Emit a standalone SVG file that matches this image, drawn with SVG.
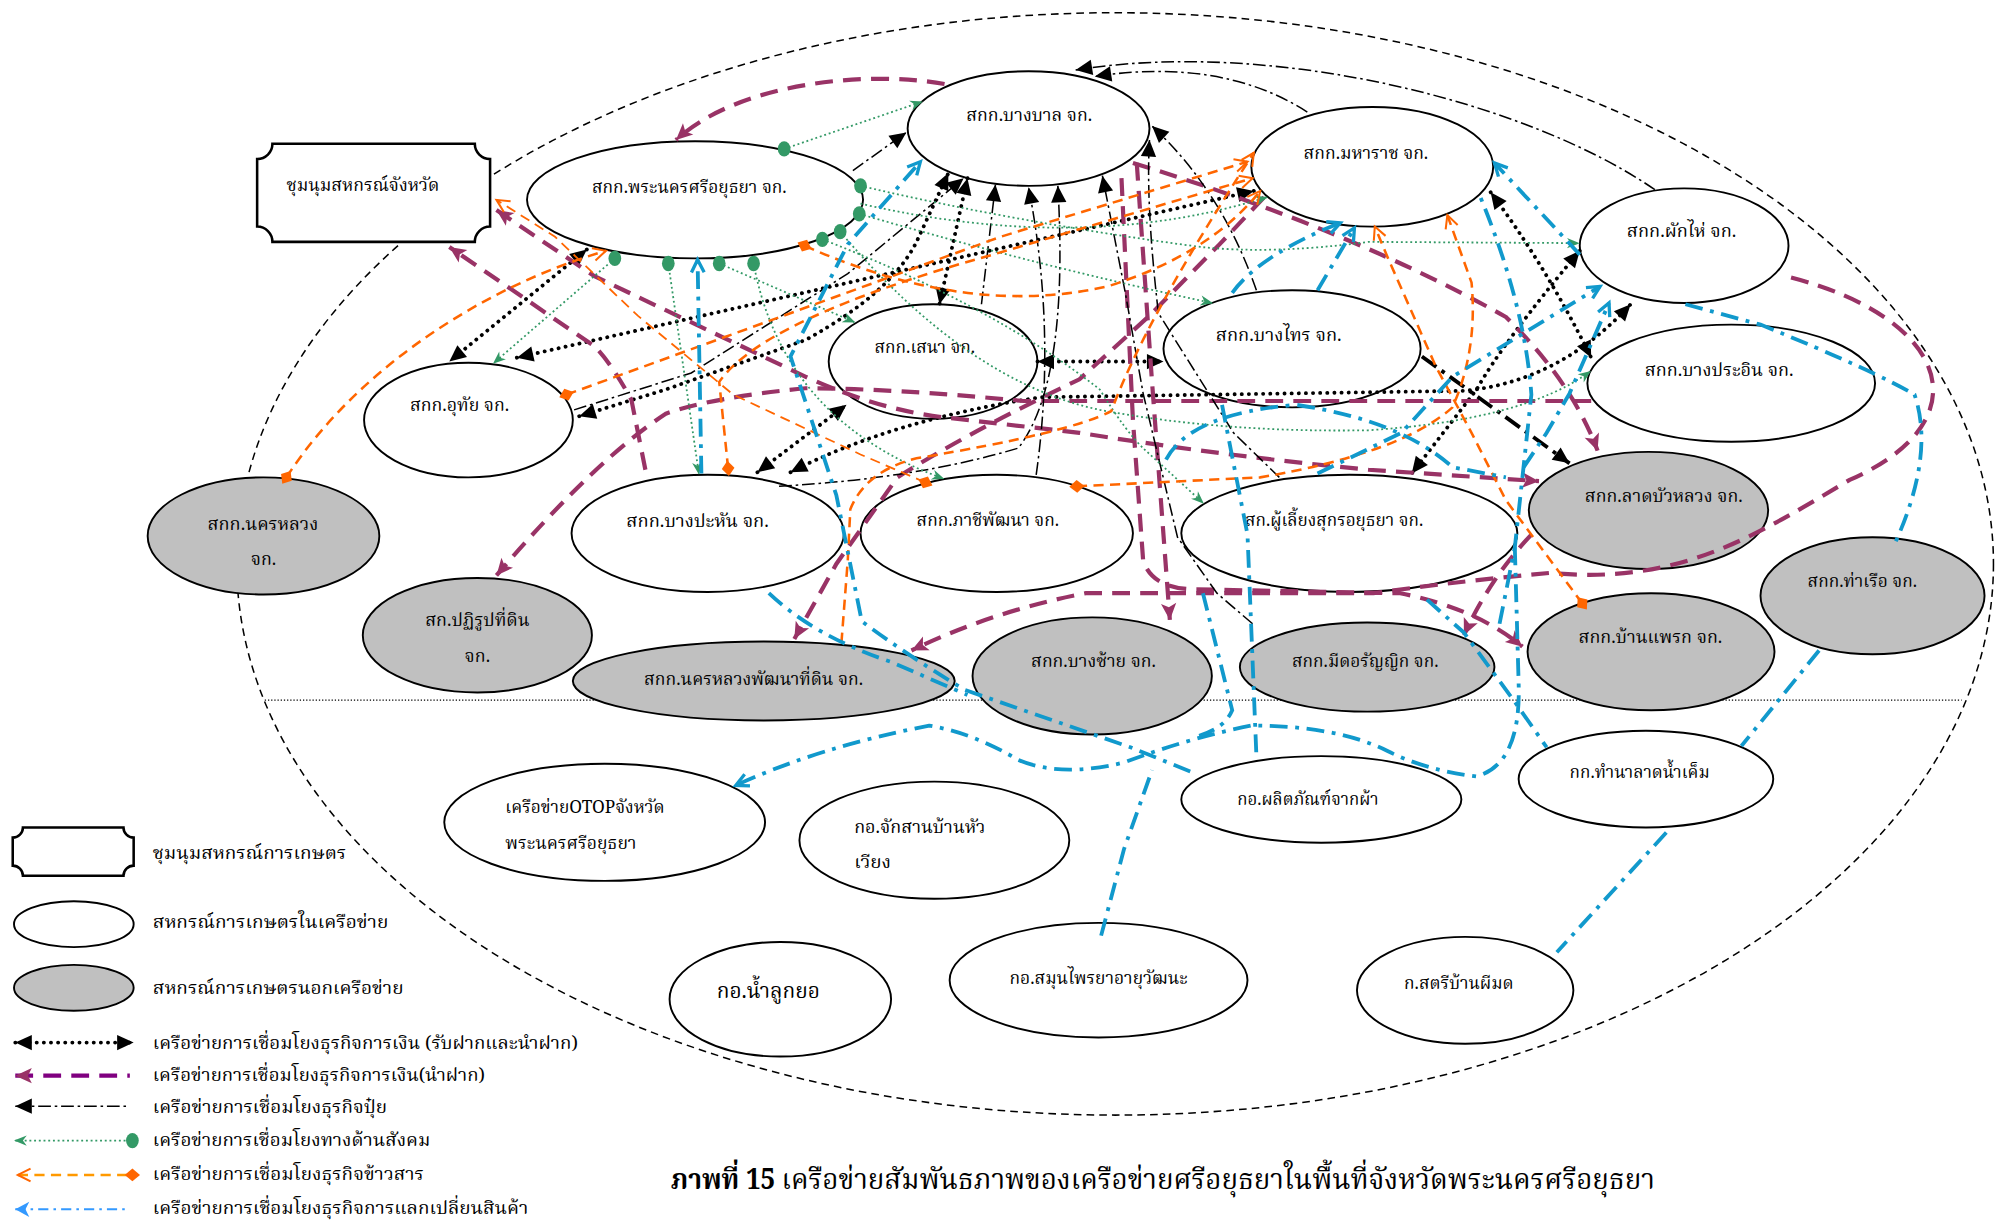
<svg xmlns="http://www.w3.org/2000/svg" width="1996" height="1224" viewBox="0 0 1996 1224">
<style>
.nd{fill:#fff;stroke:#000;stroke-width:1.5}
.gr{fill:#c0c0c0;stroke:#000;stroke-width:1.5}
.t{font-family:'Noto Serif Thai','Noto Sans Thai','Liberation Serif',serif;font-size:14px;fill:#000}
.c{text-anchor:middle}
.fin{fill:none;stroke:#000;stroke-width:3;stroke-dasharray:0.1 5.5;stroke-linecap:round}
.loan{fill:none;stroke:#993366;stroke-width:3.3;stroke-dasharray:14 8}
.fert{fill:none;stroke:#000;stroke-width:1.2;stroke-dasharray:10 3 2 3}
.soc{fill:none;stroke:#339966;stroke-width:1.4;stroke-dasharray:1.5 2.2}
.rice{fill:none;stroke:#ff6600;stroke-width:2;stroke-dasharray:8 5}
.exch{fill:none;stroke:#1199cc;stroke-width:3;stroke-dasharray:14 6 3 6}
</style>
<defs>
<marker id="aB" markerUnits="userSpaceOnUse" markerWidth="14" markerHeight="12" refX="13" refY="6" orient="auto-start-reverse" overflow="visible"><path d="M0,0 L13,6 L0,12 Z" fill="#000"/></marker>
<marker id="aP" markerUnits="userSpaceOnUse" markerWidth="14" markerHeight="12" refX="13" refY="6" orient="auto-start-reverse" overflow="visible"><path d="M0,0 L13,6 L0,12 L3,6 Z" fill="#993366"/></marker>
<marker id="aG" markerUnits="userSpaceOnUse" markerWidth="10" markerHeight="8" refX="9" refY="4" orient="auto-start-reverse" overflow="visible"><path d="M0,0 L10,4 L0,8 L3,4 Z" fill="#339966"/></marker>
<marker id="dG" markerUnits="userSpaceOnUse" markerWidth="12" markerHeight="12" refX="6" refY="6" overflow="visible"><ellipse cx="6" cy="6" rx="5" ry="6" fill="#339966"/></marker>
<marker id="aO" markerUnits="userSpaceOnUse" markerWidth="12" markerHeight="12" refX="11" refY="6" orient="auto-start-reverse" overflow="visible"><path d="M1,1 L11,6 L1,11" fill="none" stroke="#ff6600" stroke-width="1.6"/></marker>
<marker id="dO" markerUnits="userSpaceOnUse" markerWidth="12" markerHeight="12" refX="6" refY="6" orient="auto" overflow="visible"><path d="M0,6 L6,1 L12,6 L6,11 Z" fill="#ff6600"/></marker>
<marker id="aX" markerUnits="userSpaceOnUse" markerWidth="13" markerHeight="13" refX="11" refY="6" orient="auto-start-reverse" overflow="visible"><path d="M1,1 L11,6 L1,11" fill="none" stroke="#1199cc" stroke-width="2.6"/></marker>
<marker id="aL" markerUnits="userSpaceOnUse" markerWidth="13" markerHeight="13" refX="11" refY="6" orient="auto-start-reverse" overflow="visible"><path d="M0,0 L11,6 L0,12 L3,6 Z" fill="#3399ff"/></marker>
</defs>
<rect width="1996" height="1224" fill="#fff"/>
<g transform="scale(1.27296)">
<g id="frame">
<ellipse cx="876" cy="443" rx="690" ry="433" fill="none" stroke="#000" stroke-width="1.2" stroke-dasharray="6 4"/>
<line x1="208" y1="550" x2="1541" y2="550" stroke="#000" stroke-width="1" stroke-dasharray="1 1.5"/>
</g>
<g id="n-chumnum">
<path class="nd" style="stroke-width:2" d="M214,113 L373,113 A12,12 0 0 0 385,125 L385,178 A12,12 0 0 0 373,190 L214,190 A12,12 0 0 0 202,178 L202,125 A12,12 0 0 0 214,113 Z"/>
<text class="t" x="225" y="150" textLength="120" lengthAdjust="spacingAndGlyphs">ชุมนุมสหกรณ์จังหวัด</text>
</g>
<g id="n1"><ellipse class="nd" cx="546" cy="157" rx="132" ry="46"/><text class="t" x="465" y="152" textLength="153" lengthAdjust="spacingAndGlyphs">สกก.พระนครศรีอยุธยา จก.</text></g>
<g id="n2"><ellipse class="nd" cx="808" cy="101" rx="95" ry="45"/><text class="t" x="759" y="95" textLength="99" lengthAdjust="spacingAndGlyphs">สกก.บางบาล จก.</text></g>
<g id="n3"><ellipse class="nd" cx="1078" cy="131" rx="95" ry="47"/><text class="t" x="1024" y="125" textLength="98" lengthAdjust="spacingAndGlyphs">สกก.มหาราช จก.</text></g>
<g id="n4"><ellipse class="nd" cx="1323" cy="193" rx="82" ry="45"/><text class="t" x="1278" y="186" textLength="86" lengthAdjust="spacingAndGlyphs">สกก.ผักไห่ จก.</text></g>
<g id="n5"><ellipse class="nd" cx="733" cy="284" rx="82" ry="45"/><text class="t" x="687" y="277" textLength="79" lengthAdjust="spacingAndGlyphs">สกก.เสนา จก.</text></g>
<g id="n6"><ellipse class="nd" cx="1015" cy="274" rx="101" ry="46"/><text class="t" x="955" y="268" textLength="99" lengthAdjust="spacingAndGlyphs">สกก.บางไทร จก.</text></g>
<g id="n7"><ellipse class="nd" cx="1360" cy="301" rx="113" ry="46"/><text class="t" x="1292" y="295" textLength="117" lengthAdjust="spacingAndGlyphs">สกก.บางประอิน จก.</text></g>
<g id="n8"><ellipse class="nd" cx="368" cy="330" rx="82" ry="45"/><text class="t" x="322" y="323" textLength="78" lengthAdjust="spacingAndGlyphs">สกก.อุทัย จก.</text></g>
<g id="n9"><ellipse class="gr" cx="207" cy="421" rx="91" ry="46"/><text class="t" x="163" y="416" textLength="87" lengthAdjust="spacingAndGlyphs">สกก.นครหลวง</text><text class="t c" x="207" y="444">จก.</text></g>
<g id="n10"><ellipse class="nd" cx="556" cy="419" rx="107" ry="46"/><text class="t" x="492" y="414" textLength="112" lengthAdjust="spacingAndGlyphs">สกก.บางปะหัน จก.</text></g>
<g id="n11"><ellipse class="nd" cx="783" cy="419" rx="107" ry="46"/><text class="t" x="720" y="413" textLength="112" lengthAdjust="spacingAndGlyphs">สกก.ภาชีพัฒนา จก.</text></g>
<g id="n12"><ellipse class="nd" cx="1060" cy="419" rx="132" ry="46"/><text class="t" x="978" y="413" textLength="140" lengthAdjust="spacingAndGlyphs">สก.ผู้เลี้ยงสุกรอยุธยา จก.</text></g>
<g id="n13"><ellipse class="gr" cx="1295" cy="401" rx="94" ry="46"/><text class="t" x="1245" y="394" textLength="124" lengthAdjust="spacingAndGlyphs">สกก.ลาดบัวหลวง จก.</text></g>
<g id="n14"><ellipse class="gr" cx="1471" cy="468" rx="88" ry="46"/><text class="t" x="1420" y="461" textLength="86" lengthAdjust="spacingAndGlyphs">สกก.ท่าเรือ จก.</text></g>
<g id="n15"><ellipse class="gr" cx="375" cy="499" rx="90" ry="45"/><text class="t" x="334" y="492" textLength="82" lengthAdjust="spacingAndGlyphs">สก.ปฏิรูปที่ดิน</text><text class="t c" x="375" y="520">จก.</text></g>
<g id="n16"><ellipse class="gr" cx="600" cy="535" rx="150" ry="31"/><text class="t" x="506" y="538" textLength="172" lengthAdjust="spacingAndGlyphs">สกก.นครหลวงพัฒนาที่ดิน จก.</text></g>
<g id="n17"><ellipse class="gr" cx="858" cy="531" rx="94" ry="46"/><text class="t" x="810" y="524" textLength="98" lengthAdjust="spacingAndGlyphs">สกก.บางซ้าย จก.</text></g>
<g id="n18"><ellipse class="gr" cx="1074" cy="524" rx="100" ry="35"/><text class="t" x="1015" y="524" textLength="115" lengthAdjust="spacingAndGlyphs">สกก.มีดอรัญญิก จก.</text></g>
<g id="n19"><ellipse class="gr" cx="1297" cy="512" rx="97" ry="46"/><text class="t" x="1240" y="505" textLength="113" lengthAdjust="spacingAndGlyphs">สกก.บ้านแพรก จก.</text></g>
<g id="n20"><ellipse class="nd" cx="475" cy="646" rx="126" ry="46"/><text class="t" x="397" y="639" textLength="125" lengthAdjust="spacingAndGlyphs">เครือข่ายOTOPจังหวัด</text><text class="t" x="397" y="667" textLength="103" lengthAdjust="spacingAndGlyphs">พระนครศรีอยุธยา</text></g>
<g id="n21"><ellipse class="nd" cx="734" cy="660" rx="106" ry="46"/><text class="t" x="671" y="654" textLength="103" lengthAdjust="spacingAndGlyphs">กอ.จักสานบ้านหัว</text><text class="t" x="671" y="682" textLength="29" lengthAdjust="spacingAndGlyphs">เวียง</text></g>
<g id="n22"><ellipse class="nd" cx="1038" cy="628" rx="110" ry="34"/><text class="t" x="972" y="632" textLength="111" lengthAdjust="spacingAndGlyphs">กอ.ผลิตภัณฑ์จากผ้า</text></g>
<g id="n23"><ellipse class="nd" cx="1293" cy="612" rx="100" ry="38"/><text class="t" x="1233" y="611" textLength="110" lengthAdjust="spacingAndGlyphs">กก.ทำนาลาดน้ำเค็ม</text></g>
<g id="n24"><ellipse class="nd" cx="613" cy="785" rx="87" ry="45"/><text class="t" x="563" y="784" style="font-size:17px" textLength="81" lengthAdjust="spacingAndGlyphs">กอ.น้ำลูกยอ</text></g>
<g id="n25"><ellipse class="nd" cx="863" cy="770" rx="117" ry="45"/><text class="t" x="793" y="773" textLength="140" lengthAdjust="spacingAndGlyphs">กอ.สมุนไพรยาอายุวัฒนะ</text></g>
<g id="n26"><ellipse class="nd" cx="1151" cy="778" rx="85" ry="42"/><text class="t" x="1103" y="777" textLength="86" lengthAdjust="spacingAndGlyphs">ก.สตรีบ้านผีมด</text></g>

<g id="connectors">
<!-- finance dotted -->
<path class="fin" marker-start="url(#aB)" marker-end="url(#aB)" d="M461,196 L353,284"/>
<path class="fin" marker-start="url(#aB)" marker-end="url(#aB)" d="M406,281 L985,150"/>
<path class="fin" marker-start="url(#aB)" marker-end="url(#aB)" d="M455,327 L523,306 L633,267 Q700,230 720,190 L745,136"/>
<path class="fin" marker-start="url(#aB)" marker-end="url(#aB)" d="M760,140 L738,239"/>
<path class="fin" marker-start="url(#aB)" marker-end="url(#aB)" d="M595,371 L665,318"/>
<path class="fin" marker-start="url(#aB)" marker-end="url(#aB)" d="M815,284 L914,284"/>
<path class="fin" marker-start="url(#aB)" marker-end="url(#aB)" d="M621,371 Q700,330 818,312 L1150,307 Q1225,300 1281,239"/>
<path class="fin" marker-start="url(#aB)" marker-end="url(#aB)" d="M1241,197 Q1180,270 1160,306 L1109,372"/>
<path class="fin" marker-start="url(#aB)" marker-end="url(#aB)" d="M1171,151 Q1215,210 1250,281"/>
<!-- loan purple dashed -->
<path class="loan" marker-end="url(#aP)" d="M742,66 C680,55 580,65 531,110"/>
<path class="loan" marker-end="url(#aP)" d="M890,128 Q1060,180 1183,249 Q1235,300 1255,354"/>
<path class="loan" marker-start="url(#aP)" marker-end="url(#aP)" d="M390,165 L467,217 L551,257 L633,296 Q690,322 743,328 L848,340 Q960,358 1075,369 L1209,378"/>
<path class="loan" marker-end="url(#aP)" d="M993,155 L958,192 L903,248 L848,298 Q760,340 705,375 L657,443 L624,502"/>
<path class="loan" marker-end="url(#aP)" d="M1250,315 L804,315 Q700,305 633,305 Q560,312 523,325 Q468,361 390,452"/>
<path class="loan" marker-end="url(#aP)" d="M507,369 L496,314 Q480,285 467,272 L353,194"/>
<path class="loan" marker-end="url(#aP)" d="M893,128 L905,300 L919,487"/>
<path class="loan" marker-end="url(#aP)" d="M881,140 L890,330 L898,440 Q905,463 940,463 L1100,466 Q1160,478 1196,508"/>
<path class="loan" marker-end="url(#aP)" d="M1203,420 Q1170,455 1150,499"/>
<path class="loan" marker-end="url(#aP)" d="M1407,218 C1530,250 1560,330 1453,377 C1380,420 1320,460 1218,450 Q1150,456 1079,466 L853,466 Q780,480 716,511"/>
<!-- fertilizer dash-dot -->
<path class="fert" marker-end="url(#aB)" d="M670,134 L712,104"/>
<path class="fert" marker-end="url(#aB)" d="M1300,149 C1200,80 1000,30 845,55"/>
<path class="fert" marker-end="url(#aB)" d="M1027,88 Q960,45 860,60"/>
<path class="fert" marker-end="url(#aB)" d="M987,228 Q960,150 905,99"/>
<path class="fert" marker-end="url(#aB)" d="M1005,375 L969,340 L910,246 Q900,160 903,110"/>
<path class="fert" marker-end="url(#aB)" d="M984,490 L956,466 L925,422 L898,309 L884,230 L866,138"/>
<path class="fert" marker-end="url(#aB)" d="M814,373 Q830,260 808,147"/>
<path class="fert" marker-end="url(#aB)" d="M771,239 L782,145"/>
<path class="fert" marker-end="url(#aB)" d="M451,322 L543,293 L666,215 L757,140"/>
<path class="fert" marker-end="url(#aB)" d="M612,382 Q720,376 800,352 Q840,300 831,146"/>
<path class="fert" style="stroke-width:3;stroke-dasharray:14 5 3 5" marker-end="url(#aB)" d="M1117,280 L1233,364"/>
<!-- social green -->
<path class="soc" marker-start="url(#dG)" marker-end="url(#aG)" d="M616,117 L724,80"/>
<path class="soc" marker-start="url(#dG)" marker-end="url(#aG)" d="M676,146 Q800,175 943,194 Q1000,200 1075,190 L1240,191"/>
<path class="soc" marker-start="url(#dG)" marker-end="url(#aG)" d="M675,168 Q820,210 952,238"/>
<path class="soc" marker-start="url(#dG)" marker-end="url(#aG)" d="M646,188 Q780,240 864,306 Q885,340 899,353 L945,395"/>
<path class="soc" marker-start="url(#dG)" marker-end="url(#aG)" d="M483,203 L388,285"/>
<path class="soc" marker-start="url(#dG)" marker-end="url(#aG)" d="M525,207 L549,372"/>
<path class="soc" marker-start="url(#dG)" marker-end="url(#aG)" d="M565,207 L671,253"/>
<path class="soc" marker-start="url(#dG)" marker-end="url(#aG)" d="M592,207 Q615,330 741,376"/>
<path class="soc" marker-start="url(#dG)" marker-end="url(#aG)" d="M660,182 Q760,300 864,322 Q960,340 1075,338 Q1197,330 1249,292"/>
<path class="soc" marker-end="url(#aG)" d="M676,160 Q850,200 995,155"/>
<!-- rice orange -->
<path class="rice" marker-start="url(#dO)" marker-end="url(#aO)" d="M225,375 C280,290 380,225 476,197"/>
<path class="rice" marker-start="url(#dO)" marker-end="url(#aO)" d="M445,310 L786,186 L980,127"/>
<path class="rice" marker-start="url(#dO)" marker-end="url(#aO)" d="M632,193 Q760,250 870,225 Q950,200 990,150"/>
<path class="rice" marker-start="url(#dO)" marker-end="url(#aO)" d="M572,368 L565,300 Q600,250 780,200 L984,140"/>
<path class="rice" style="stroke-width:1.4" marker-start="url(#dO)" marker-end="url(#aO)" d="M727,379 L676,357 L576,310 L501,248 L436,186 L390,157"/>
<path class="rice" marker-start="url(#dO)" marker-end="url(#aO)" d="M846,382 L990,375 Q1101,356 1141,320 Q1161,275 1156,222 L1137,169"/>
<path class="rice" marker-start="url(#dO)" marker-end="url(#aO)" d="M1243,474 L1183,393 L1156,340 L1128,288 L1090,202 L1080,178"/>
<path class="rice" marker-end="url(#aO)" d="M661,505 L666,440 L668,400 Q680,370 720,360 Q840,340 873,323 Q900,250 985,120"/>
<!-- exchange blue -->
<path class="exch" marker-end="url(#aX)" d="M551,372 L548,204"/>
<path class="exch" marker-end="url(#aX)" d="M935,606 L888,587 L758,542 Q713,515 677,488 L657,389 L621,280 L666,192 L723,127"/>
<path class="exch" d="M604,466 Q640,500 700,520 L760,546"/>
<path class="exch" marker-end="url(#aX)" d="M1190,430 L1193,537 Q1195,600 1160,610 Q1120,605 1090,590 Q1050,570 983,570 Q933,580 883,599 Q833,611 800,597 Q765,576 730,570 Q643,587 578,617"/>
<path class="exch" d="M1178,490 L1190,430 L1203,310 Q1198,240 1163,155"/>
<path class="exch" marker-end="url(#aX)" d="M1241,200 L1174,128"/>
<path class="exch" marker-end="url(#aX)" d="M1035,372 L1101,340 L1141,296 L1257,225"/>
<path class="exch" marker-end="url(#aX)" d="M1197,367 L1215,340 L1233,309 L1264,238"/>
<path class="exch" d="M1324,239 L1383,255 Q1474,292 1504,310 Q1520,357 1489,426"/>
<path class="exch" d="M1429,511 L1368,586"/>
<path class="exch" d="M1309,654 L1223,748"/>
<path class="exch" marker-end="url(#aX)" d="M968,230 Q990,200 1053,175"/>
<path class="exch" marker-end="url(#aX)" d="M1035,228 L1064,179"/>
<path class="exch" d="M960,318 L980,420 L987,594"/>
<path class="exch" d="M945,466 L968,558 Q962,572 942,578"/>
<path class="exch" d="M916,361 Q935,325 1018,318 Q1100,330 1141,367 L1183,375"/>
<path class="exch" d="M1121,471 L1150,497 L1189,550 L1215,587"/>
<path class="exch" d="M865,735 L883,667 L905,605"/>
</g>

<g id="legend">
<path class="nd" style="stroke-width:2" d="M18,650 L97,650 A8,8 0 0 0 105,658 L105,680 A8,8 0 0 0 97,688 L18,688 A8,8 0 0 0 10,680 L10,658 A8,8 0 0 0 18,650 Z"/>
<text class="t" x="120" y="675" textLength="152" lengthAdjust="spacingAndGlyphs">ชุมนุมสหกรณ์การเกษตร</text>
<ellipse class="nd" cx="58" cy="726" rx="47" ry="18"/>
<text class="t" x="120" y="729" textLength="185" lengthAdjust="spacingAndGlyphs">สหกรณ์การเกษตรในเครือข่าย</text>
<ellipse class="gr" cx="58" cy="776" rx="47" ry="18"/>
<text class="t" x="120" y="781" textLength="197" lengthAdjust="spacingAndGlyphs">สหกรณ์การเกษตรนอกเครือข่าย</text>
<path class="fin" marker-start="url(#aB)" marker-end="url(#aB)" d="M12,819 L105,819"/>
<text class="t" x="120" y="824" textLength="334" lengthAdjust="spacingAndGlyphs">เครือข่ายการเชื่อมโยงธุรกิจการเงิน (รับฝากและนำฝาก)</text>
<path class="loan" style="stroke:#800080" marker-start="url(#aP)" d="M12,845 L102,845"/>
<text class="t" x="120" y="849" textLength="261" lengthAdjust="spacingAndGlyphs">เครือข่ายการเชื่อมโยงธุรกิจการเงิน(นำฝาก)</text>
<path class="fert" marker-start="url(#aB)" d="M12,869 L102,869"/>
<text class="t" x="120" y="874" textLength="184" lengthAdjust="spacingAndGlyphs">เครือข่ายการเชื่อมโยงธุรกิจปุ๋ย</text>
<path class="soc" marker-start="url(#aG)" marker-end="url(#dG)" d="M12,896 L104,896"/>
<text class="t" x="120" y="900" textLength="218" lengthAdjust="spacingAndGlyphs">เครือข่ายการเชื่อมโยงทางด้านสังคม</text>
<path class="rice" style="stroke:#ff9900" marker-start="url(#aO)" marker-end="url(#dO)" d="M14,923 L104,923"/>
<text class="t" x="120" y="927" textLength="213" lengthAdjust="spacingAndGlyphs">เครือข่ายการเชื่อมโยงธุรกิจข้าวสาร</text>
<path class="exch" style="stroke:#3399ff;stroke-width:1.5;stroke-dasharray:8 4 2 4" marker-start="url(#aL)" d="M12,950 L100,950"/>
<text class="t" x="120" y="954" textLength="295" lengthAdjust="spacingAndGlyphs">เครือข่ายการเชื่อมโยงธุรกิจการแลกเปลี่ยนสินค้า</text>
</g>
<g id="caption">
<text class="t" x="527" y="934" style="font-size:22px;font-weight:bold" textLength="82" lengthAdjust="spacingAndGlyphs">ภาพที่ 15</text>
<text class="t" x="614" y="934" style="font-size:22px" textLength="686" lengthAdjust="spacingAndGlyphs">เครือข่ายสัมพันธภาพของเครือข่ายศรีอยุธยาในพื้นที่จังหวัดพระนครศรีอยุธยา</text>
</g>
</g>
</svg>
